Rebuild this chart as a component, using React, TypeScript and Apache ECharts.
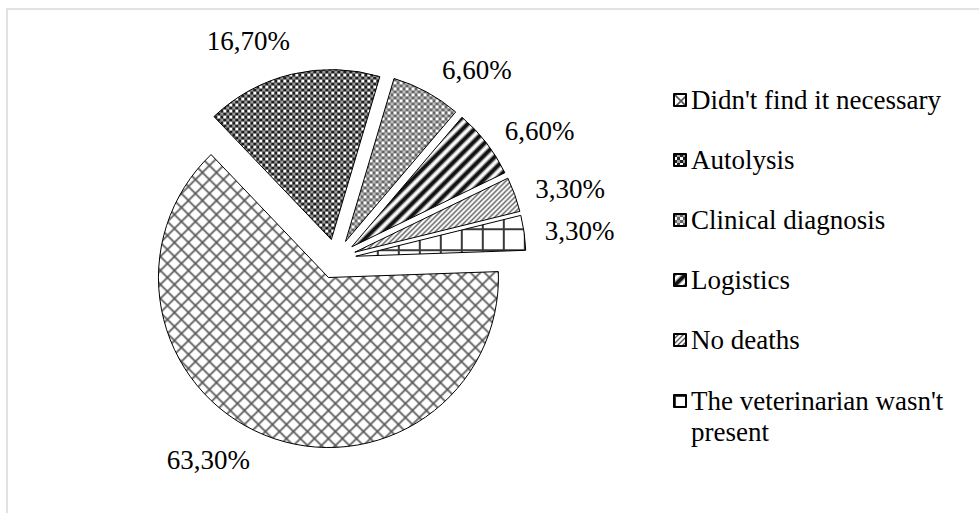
import React, { useEffect, useRef } from 'react';
import * as echarts from 'echarts';

const categories = [
  "Didn't find it necessary",
  'Autolysis',
  'Clinical diagnosis',
  'Logistics',
  'No deaths',
  "The veterinarian wasn't present",
];
const values = [63.3, 16.7, 6.6, 6.6, 3.3, 3.3];

const FONT = "'Liberation Serif', 'Times New Roman', serif";
const FONT_SIZE = 27;
const CENTER = [336, 259];
const RADIUS = 170;
const OFFSET = 20;
const START = 2;
const LABEL_GAP = 14;
// small pixel nudges of the value labels (style, not data)
const LABEL_NUDGE = [
  [-41, -12],
  [-35, 0],
  [31, 13],
  [15, 18],
  [8, 12],
  [6, 5],
];

type Draw = (ctx: CanvasRenderingContext2D, w: number, h: number) => void;

function makeTile(w: number, h: number, draw: Draw) {
  const c = document.createElement('canvas');
  c.width = w;
  c.height = h;
  const ctx = c.getContext('2d') as CanvasRenderingContext2D;
  ctx.fillStyle = '#ffffff';
  ctx.fillRect(0, 0, w, h);
  draw(ctx, w, h);
  return { image: c.toDataURL(), repeat: 'repeat', imageWidth: w, imageHeight: h };
}

function buildPatterns() {
  const cross = makeTile(14, 14, (ctx, w, h) => {
    ctx.strokeStyle = '#555';
    ctx.lineWidth = 1.6;
    ctx.beginPath();
    ctx.moveTo(-2, -2); ctx.lineTo(w + 2, h + 2);
    ctx.moveTo(w + 2, -2); ctx.lineTo(-2, h + 2);
    ctx.stroke();
  });
  const checkDark = makeTile(6, 6, (ctx) => {
    ctx.fillStyle = '#1e1e1e';
    ctx.fillRect(0, 0, 3, 3);
    ctx.fillRect(3, 3, 3, 3);
    ctx.fillStyle = '#9a9a9a';
    ctx.fillRect(3, 0, 3, 3);
  });
  const checkLight = makeTile(6, 6, (ctx) => {
    ctx.fillStyle = '#666';
    ctx.fillRect(0, 0, 3, 3);
    ctx.fillRect(3, 3, 3, 3);
    ctx.fillStyle = '#bdbdbd';
    ctx.fillRect(3, 0, 3, 3);
  });
  const wide = makeTile(12, 12, (ctx, w, h) => {
    ctx.strokeStyle = 'rgba(0,0,0,0.35)';
    ctx.lineWidth = 6;
    ctx.beginPath();
    for (const o of [-w, 0, w]) {
      ctx.moveTo(o - 2, h + 2);
      ctx.lineTo(o + w + 2, -2);
    }
    ctx.stroke();
    ctx.strokeStyle = '#111';
    ctx.lineWidth = 3.5;
    ctx.beginPath();
    for (const o of [-w, 0, w]) {
      ctx.moveTo(o - 2, h + 2);
      ctx.lineTo(o + w + 2, -2);
    }
    ctx.stroke();
  });
  const thin = makeTile(5, 5, (ctx, w, h) => {
    ctx.strokeStyle = '#5a5a5a';
    ctx.lineWidth = 1.4;
    ctx.beginPath();
    for (const o of [-w, 0, w]) {
      ctx.moveTo(o - 1, h + 1);
      ctx.lineTo(o + w + 1, -1);
    }
    ctx.stroke();
  });
  const grid = makeTile(21, 21, (ctx, w, h) => {
    ctx.fillStyle = '#3a3a3a';
    ctx.fillRect(0, 0, 2, h);
    ctx.fillRect(0, 0, w, 2);
  });
  return [cross, checkDark, checkLight, wide, thin, grid];
}

function measure(text: string) {
  const c = document.createElement('canvas');
  const ctx = c.getContext('2d') as CanvasRenderingContext2D;
  ctx.font = `${FONT_SIZE}px ${FONT}`;
  return ctx.measureText(text).width;
}

export default function App() {
  const ref = useRef<HTMLDivElement>(null);

  useEffect(() => {
    if (!ref.current) return;
    const chart = echarts.init(ref.current, null, { renderer: 'svg' });
    const patterns = buildPatterns();
    const total = values.reduce((a, b) => a + b, 0);
    const cum: number[] = [];
    let acc = 0;
    values.forEach((v) => {
      cum.push(acc);
      acc += v;
    });

    const fmt = (v: number) => v.toFixed(2).replace('.', ',') + '%';

    const valueLabels = values.map((v, i) => {
      const text = fmt(v);
      const mid = START - ((cum[i] + v / 2) / total) * 360;
      const rad = (mid * Math.PI) / 180;
      const dx = Math.cos(rad);
      const dy = -Math.sin(rad);
      const w = measure(text);
      const h = 22;
      const support = (w / 2) * Math.abs(dx) + (h / 2) * Math.abs(dy);
      const dist = OFFSET + RADIUS + LABEL_GAP + support;
      return {
        type: 'text',
        x: CENTER[0] + dx * dist + LABEL_NUDGE[i][0],
        y: CENTER[1] + dy * dist + LABEL_NUDGE[i][1],
        silent: true,
        style: {
          text,
          fontFamily: FONT,
          fontSize: FONT_SIZE,
          fill: '#000',
          align: 'center',
          verticalAlign: 'middle',
        },
      };
    });

    const vetName = categories[5];

    chart.setOption({
      animation: false,
      backgroundColor: '#ffffff',
      graphic: [
        {
          type: 'rect',
          shape: { x: 7, y: 9, width: 1000, height: 530 },
          style: { fill: 'none', stroke: '#d9d9d9', lineWidth: 1.5 },
          silent: true,
        },
        ...valueLabels,
      ],
      legend: [
        {
          orient: 'vertical',
          left: 673,
          top: 84.5,
          padding: 0,
          itemWidth: 12,
          itemHeight: 12,
          itemGap: 29,
          icon: 'rect',
          selectedMode: false,
          data: categories.slice(0, 5),
          textStyle: { fontFamily: FONT, fontSize: FONT_SIZE, lineHeight: 31, color: '#000' },
        },
        {
          orient: 'vertical',
          left: 673,
          top: 354.5,
          padding: 0,
          itemWidth: 12,
          itemHeight: 12,
          icon: 'rect',
          selectedMode: false,
          data: [vetName],
          formatter: () => "\nThe veterinarian wasn't\npresent",
          textStyle: {
            fontFamily: FONT,
            fontSize: FONT_SIZE,
            lineHeight: 31,
            color: '#000',
          },
        },
      ],
      series: [
        {
          type: 'pie',
          center: CENTER,
          radius: RADIUS,
          startAngle: START,
          clockwise: true,
          selectedMode: 'multiple',
          selectedOffset: OFFSET,
          avoidLabelOverlap: false,
          emphasis: { disabled: true, scale: false },
          select: { itemStyle: { borderColor: '#000', borderWidth: 1 } },
          itemStyle: { borderColor: '#000', borderWidth: 1 },
          label: { show: false },
          labelLine: { show: false },
          data: categories.map((name, i) => ({
            name,
            value: values[i],
            selected: true,
            itemStyle: { color: patterns[i] },
          })),
        },
      ],
    });
    return () => chart.dispose();
  }, []);

  return (
    <div
      ref={ref}
      style={{ position: 'fixed', left: 0, top: 0, width: 979, height: 513 }}
    />
  );
}
